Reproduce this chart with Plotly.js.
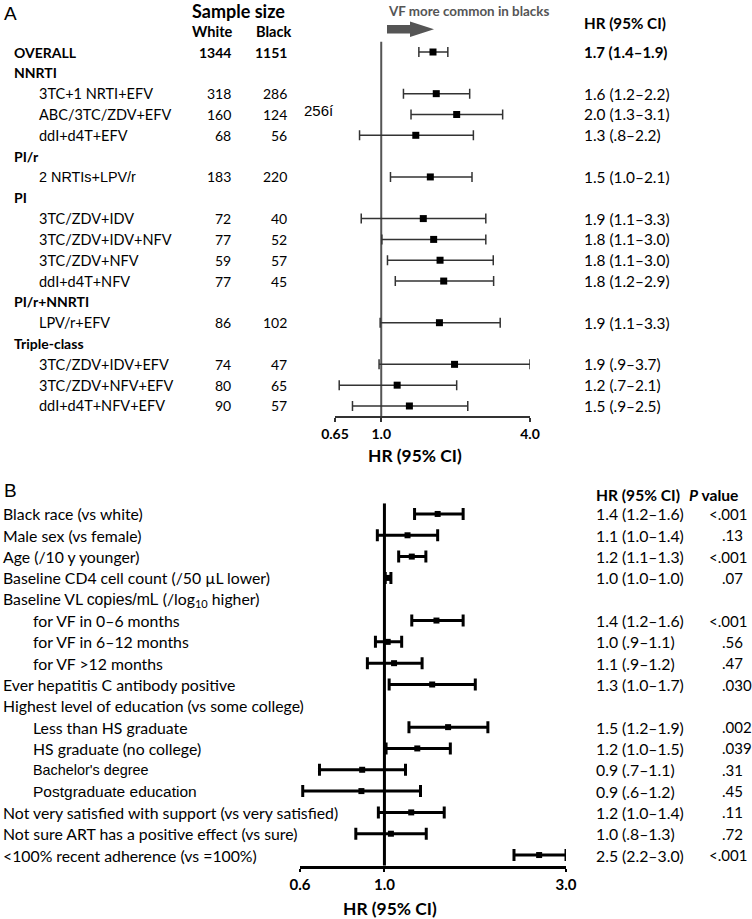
<!DOCTYPE html>
<html><head><meta charset="utf-8">
<script src="https://cdn.plot.ly/plotly-3.0.1.min.js"></script>
<style>html,body{margin:0;padding:0;background:#fff}#chart{width:752px;height:919px}</style>
</head><body><div id="chart"></div>
<script>
// ---------------- Panel A data ----------------
const aLabels = ["OVERALL","NNRTI","3TC+1 NRTI+EFV","ABC/3TC/ZDV+EFV","ddI+d4T+EFV","PI/r","2 NRTIs+LPV/r","PI",
  "3TC/ZDV+IDV","3TC/ZDV+IDV+NFV","3TC/ZDV+NFV","ddI+d4T+NFV","PI/r+NNRTI","LPV/r+EFV","Triple-class",
  "3TC/ZDV+IDV+EFV","3TC/ZDV+NFV+EFV","ddI+d4T+NFV+EFV"];
const aIsGroup = [1,1,0,0,0,1,0,1,0,0,0,0,1,0,1,0,0,0];
const aWhite = [1344,null,318,160,68,null,183,null,72,77,59,77,null,86,null,74,80,90];
const aBlack = [1151,null,286,124,56,null,220,null,40,52,57,45,null,102,null,47,65,57];
const aHR = [1.62,null,1.67,2.02,1.38,null,1.58,null,1.48,1.63,1.73,1.79,null,1.72,null,1.98,1.16,1.30];
const aLo = [1.42,null,1.23,1.32,0.817,null,1.09,null,0.83,1.006,1.06,1.14,null,0.99,null,0.98,0.676,0.765];
const aHi = [1.86,null,2.28,3.10,2.36,null,2.33,null,2.65,2.65,2.84,2.85,null,3.03,null,4.0,2.02,2.24];
const aCI = ["1.7 (1.4–1.9)","","1.6 (1.2–2.2)","2.0 (1.3–3.1)","1.3 (.8–2.2)","","1.5 (1.0–2.1)","",
  "1.9 (1.1–3.3)","1.8 (1.1–3.0)","1.8 (1.1–3.0)","1.8 (1.2–2.9)","","1.9 (1.1–3.3)","",
  "1.9 (.9–3.7)","1.2 (.7–2.1)","1.5 (.9–2.5)"];
const aTickVals = [0.65, 1, 4];
const aTickText = ["0.65","1.0","4.0"];

// ---------------- Panel B data ----------------
const bLabels = ["Black race (vs white)","Male sex (vs female)","Age (/10 y younger)","Baseline CD4 cell count (/50 µL lower)",
  "Baseline VL <span style=\"font-family:'Liberation Sans'\">copies/mL</span> (/log<sub>10</sub> higher)",
  "for VF in 0–6 months","for VF in 6–12 months","for VF &gt;12 months","Ever hepatitis C antibody positive",
  "Highest level of education (vs some college)","Less than HS graduate","HS graduate (no college)",
  "Bachelor's degree","Postgraduate education","Not very satisfied with support (vs very satisfied)",
  "Not sure ART has a positive effect (vs sure)","&lt;100% recent adherence (vs =100%)"];
const bIndent = [0,0,0,0,0,1,1,1,0,0,1,1,1,1,0,0,0];
const bHR = [1.38,1.15,1.18,1.02,null,1.37,1.02,1.06,1.335,null,1.47,1.22,0.874,0.87,1.176,1.04,2.55];
const bLo = [1.20,0.958,1.09,1.005,null,1.18,0.947,0.902,1.029,null,1.16,1.01,0.675,0.61,0.964,0.841,2.19];
const bHi = [1.61,1.38,1.285,1.04,null,1.61,1.11,1.256,1.733,null,1.87,1.49,1.136,1.244,1.436,1.288,3.0];
const bCI = ["1.4 (1.2–1.6)","1.1 (1.0–1.4)","1.2 (1.1–1.3)","1.0 (1.0–1.0)","","1.4 (1.2–1.6)","1.0 (.9–1.1)",
  "1.1 (.9–1.2)","1.3 (1.0–1.7)","","1.5 (1.2–1.9)","1.2 (1.0–1.5)","0.9 (.7–1.1)","0.9 (.6–1.2)",
  "1.2 (1.0–1.4)","1.0 (.8–1.3)","2.5 (2.2–3.0)"];
const bP = ["<.001",".13","<.001",".07","","<.001",".56",".47",".030","",".002",".039",".31",".45",".11",".72","<.001"];
const bTickVals = [0.6, 1, 3];
const bTickText = ["0.6","1.0","3.0"];

// ---------------- layout helpers ----------------
const W = 752, H = 919;
const X = p => p / W, Y = p => 1 - p / H;
const CAL = "Lato, 'Open Sans', sans-serif";
const ARI = "'Liberation Sans', Arial, sans-serif";
const arialSize = {"2 NRTIs+LPV/r": 14.4, "Bachelor's degree": 14.4, "Postgraduate education": 15.5};
const esc = s => s.replace(/</g,"&lt;").replace(/>/g,"&gt;");

const annotations = [];
function ann(text, x, y, yref, o) {
  o = o || {};
  annotations.push({
    text: text, x: X(x), xref: 'paper', y: y, yref: yref, showarrow: false,
    xanchor: o.xanchor || 'left', yanchor: 'middle',
    font: {family: o.family || CAL, size: o.size || 14, color: o.color || '#000', weight: o.weight || 'normal'}
  });
}

// Panel A text
ann("A", 2, Y(13), 'paper', {family: ARI, size: 19});
ann("Sample size", 239, Y(11), 'paper', {xanchor: 'center', size: 18, weight: 'bold'});
ann("White", 212, Y(31), 'paper', {xanchor: 'center', size: 14.6, weight: 'bold'});
ann("Black", 274, Y(31), 'paper', {xanchor: 'center', size: 14.6, weight: 'bold'});
ann("VF more common in blacks", 386, Y(11), 'paper', {size: 13.4, weight: 'bold', color: '#555'});
ann("HR (95% CI)", 582, Y(23), 'paper', {size: 15.2, weight: 'bold'});
ann("256í", 302, Y(110), 'paper', {family: ARI, size: 15});
aLabels.forEach((lab, i) => {
  const g = aIsGroup[i] === 1;
  const isA = lab in arialSize;
  ann(esc(lab), g ? 12 : 37, i, 'y', {weight: g ? 'bold' : 'normal', family: isA ? ARI : CAL,
    size: isA ? arialSize[lab] : (g ? 14 : 14.5)});
  if (aWhite[i] !== null) ann(String(aWhite[i]), 233, i, 'y', {xanchor: 'right', size: 14, weight: i === 0 ? 'bold' : 'normal'});
  if (aBlack[i] !== null) ann(String(aBlack[i]), 289, i, 'y', {xanchor: 'right', size: 14, weight: i === 0 ? 'bold' : 'normal'});
  if (aCI[i]) ann(aCI[i], 582, i, 'y', {size: i === 0 ? 15 : 15.4, weight: i === 0 ? 'bold' : 'normal'});
});
ann("HR (95% CI)", 415, Y(455), 'paper', {xanchor: 'center', size: 17.4, weight: 'bold'});

// Panel B text
ann("B", 2, Y(490), 'paper', {family: ARI, size: 19});
ann("HR (95% CI)", 594, Y(495), 'paper', {size: 15.6, weight: 'bold'});
ann("<i>P</i> value", 687, Y(495), 'paper', {size: 15.6, weight: 'bold'});
bLabels.forEach((lab, i) => {
  const isA = lab in arialSize;
  ann(lab, bIndent[i] ? 31 : 1, i, 'y2', {family: isA ? ARI : CAL, size: isA ? arialSize[lab] : 15.8});
  if (bCI[i]) ann(bCI[i], 594, i, 'y2', {size: 15.8});
  if (bP[i]) {
    if (bP[i][0] === '<') ann(esc(bP[i]), 749, i, 'y2', {xanchor: 'right', size: 15});
    else ann(bP[i], 720, i, 'y2', {size: 15});
  }
});
ann("HR (95% CI)", 390, Y(908), 'paper', {xanchor: 'center', size: 17.4, weight: 'bold'});

// ---------------- traces ----------------
function pts(hr, lo, hi) {
  const x = [], y = [], p = [], m = [];
  hr.forEach((v, i) => { if (v !== null) { x.push(v); y.push(i); p.push(hi[i] - v); m.push(v - lo[i]); } });
  return {x, y, p, m};
}
const A = pts(aHR, aLo, aHi), B = pts(bHR, bLo, bHi);

const traces = [
  {x: [1, 1], y: [-0.5, aLabels.length - 0.5], xaxis: 'x', yaxis: 'y', mode: 'lines',
   line: {color: '#555', width: 2}, hoverinfo: 'skip'},
  {x: A.x, y: A.y, xaxis: 'x', yaxis: 'y', mode: 'markers', cliponaxis: false,
   marker: {symbol: 'square', size: 7, color: '#000'},
   error_x: {type: 'data', symmetric: false, array: A.p, arrayminus: A.m, color: '#333', thickness: 1.5, width: 5}},
  {x: [1, 1], y: [-0.5, bLabels.length - 0.5], xaxis: 'x2', yaxis: 'y2', mode: 'lines',
   line: {color: '#000', width: 3}, hoverinfo: 'skip'},
  {x: B.x, y: B.y, xaxis: 'x2', yaxis: 'y2', mode: 'markers', cliponaxis: false,
   marker: {symbol: 'square', size: 6, color: '#000'},
   error_x: {type: 'data', symmetric: false, array: B.p, arrayminus: B.m, color: '#000', thickness: 3, width: 6}}
];

// arrow decoration (paper coords)
const arrowPath = `M ${X(387)},${Y(25)} L ${X(410)},${Y(25)} L ${X(410)},${Y(21.5)} L ${X(434)},${Y(29.3)} L ${X(410)},${Y(37)} L ${X(410)},${Y(33.5)} L ${X(387)},${Y(33.5)} Z`;

const tickFont = {family: CAL, size: 14, color: '#000', weight: 'bold'};
const layout = {
  width: W, height: H, margin: {l: 0, r: 0, t: 0, b: 0},
  paper_bgcolor: '#fff', plot_bgcolor: 'rgba(0,0,0,0)', showlegend: false,
  xaxis: {type: 'log', domain: [X(335), X(530)], range: [Math.log10(0.65), Math.log10(4)], anchor: 'y',
    showline: true, linecolor: '#333', linewidth: 1.5, ticks: 'outside', ticklen: 4, tickwidth: 1.5, tickcolor: '#333',
    tickvals: aTickVals, ticktext: aTickText, tickfont: tickFont, showgrid: false, zeroline: false, fixedrange: true},
  yaxis: {domain: [Y(416.4), Y(41.6)], range: [aLabels.length - 0.5, -0.5], visible: false, fixedrange: true},
  xaxis2: {type: 'log', domain: [X(300), X(566)], range: [Math.log10(0.6), Math.log10(3)], anchor: 'y2',
    showline: true, linecolor: '#000', linewidth: 3, ticks: 'outside', ticklen: 3, tickwidth: 2, tickcolor: '#000',
    tickvals: bTickVals, ticktext: bTickText, tickfont: Object.assign({}, tickFont, {size: 15}), showgrid: false, zeroline: false, fixedrange: true},
  yaxis2: {domain: [Y(865.7), Y(503.3)], range: [bLabels.length - 0.5, -0.5], visible: false, fixedrange: true},
  shapes: [{type: 'path', xref: 'paper', yref: 'paper', path: arrowPath, fillcolor: '#555', line: {width: 0}}],
  annotations: annotations
};

Plotly.newPlot('chart', traces, layout, {displayModeBar: false, staticPlot: true});
</script></body></html>
